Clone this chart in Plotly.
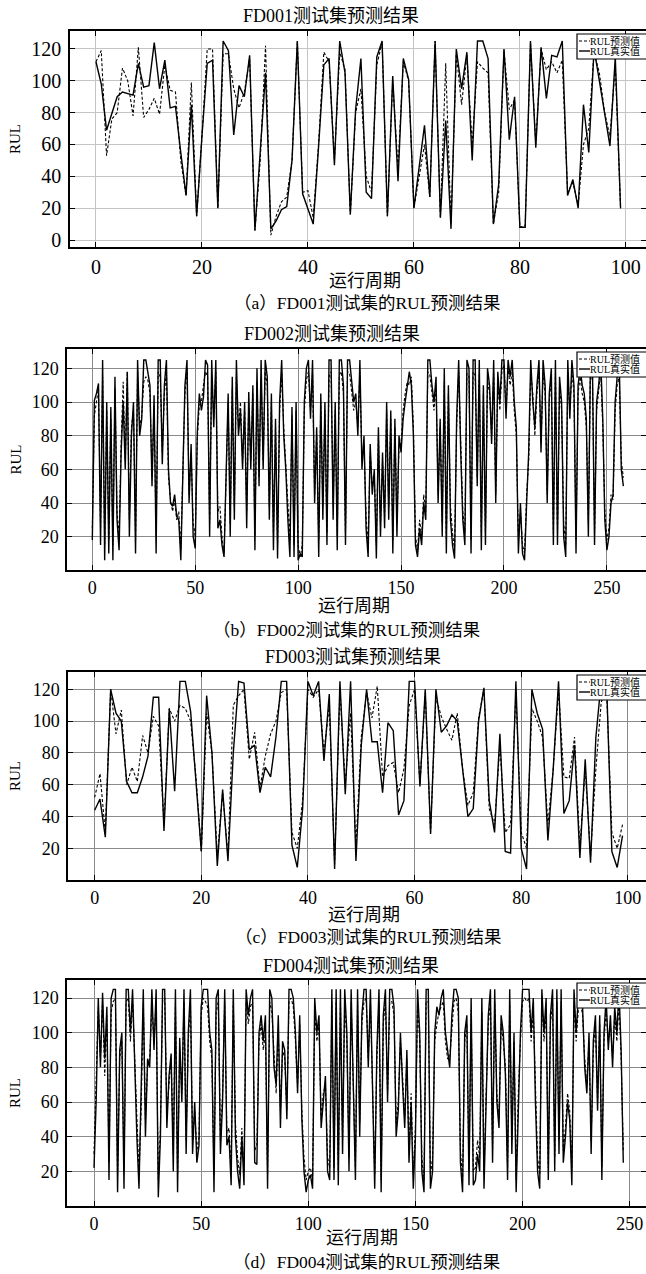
import plotly.graph_objects as go

W, H = 646, 1274

# ---------------- data ----------------
fd001_true = [112, 98, 69, 80, 90, 93, 92, 91, 111, 96,
              97, 124, 95, 113, 83, 84, 55, 28, 85, 15,
              65, 111, 113, 20, 125, 119, 66, 97, 90, 116,
              6, 55, 105, 7, 12, 19, 21, 50, 125, 29,
              20, 10, 58, 110, 114, 47, 125, 105, 16, 82,
              114, 30, 26, 115, 125, 15, 103, 37, 114, 101,
              20, 45, 72, 27, 125, 14, 75, 7, 120, 95,
              118, 50, 125, 125, 114, 10, 35, 120, 63, 90,
              8, 8, 125, 58, 121, 89, 116, 115, 125, 28,
              38, 20, 85, 55, 120, 100, 80, 59, 115, 20]
fd001_pred = [112, 119, 53, 76, 80, 108, 100, 78, 121, 77,
              82, 89, 79, 110, 94, 93, 50, 28, 99, 15,
              65, 120, 120, 20, 117, 117, 95, 83, 93, 114,
              6, 50, 122, 3, 15, 24, 27, 50, 125, 30,
              31, 14, 60, 118, 112, 50, 118, 107, 16, 80,
              95, 40, 30, 110, 124, 15, 100, 45, 112, 100,
              20, 40, 60, 27, 125, 14, 111, 10, 117, 85,
              116, 60, 112, 108, 105, 10, 30, 119, 82, 88,
              8, 9, 124, 60, 120, 107, 112, 105, 113, 30,
              36, 22, 60, 70, 118, 105, 80, 65, 110, 20]

fd002_true = [18, 101, 105, 111, 15, 125, 6, 100, 10, 97,
              6, 115, 30, 12, 70, 100, 60, 118, 20, 80,
              100, 10, 125, 80, 90, 125, 125, 118, 110, 50,
              104, 10, 125, 125, 63, 110, 125, 60, 40, 38,
              45, 32, 30, 6, 55, 110, 125, 40, 75, 20,
              13, 82, 105, 95, 103, 125, 122, 20, 125, 85,
              125, 25, 30, 15, 8, 60, 105, 20, 115, 30,
              125, 80, 95, 60, 100, 25, 106, 60, 110, 12,
              120, 50, 125, 60, 125, 115, 30, 105, 12, 90,
              7, 100, 125, 80, 60, 30, 8, 97, 8, 100,
              6, 10, 8, 100, 120, 125, 90, 125, 40, 85,
              8, 105, 30, 100, 15, 125, 125, 30, 100, 12,
              125, 125, 110, 15, 125, 125, 110, 100, 105, 80,
              125, 60, 80, 25, 8, 75, 45, 60, 7, 85,
              20, 70, 25, 100, 30, 95, 10, 90, 20, 80,
              70, 90, 100, 110, 118, 110, 80, 15, 8, 25,
              15, 40, 30, 125, 125, 110, 100, 115, 40, 90,
              20, 120, 10, 110, 30, 15, 7, 90, 125, 70,
              30, 15, 125, 120, 10, 125, 125, 50, 125, 12,
              110, 15, 120, 110, 75, 125, 40, 118, 100, 125,
              125, 90, 125, 115, 125, 100, 85, 10, 40, 10,
              6, 40, 70, 125, 100, 85, 110, 125, 70, 125,
              110, 40, 105, 120, 15, 125, 15, 115, 100, 20,
              8, 125, 90, 125, 110, 10, 110, 120, 110, 105,
              90, 20, 125, 120, 15, 100, 110, 125, 90, 30,
              12, 20, 40, 45, 100, 115, 125, 60, 50]
fd002_pred = [25, 92, 100, 108, 25, 115, 15, 95, 18, 90,
              15, 108, 35, 20, 75, 112, 65, 118, 30, 85,
              95, 18, 118, 85, 92, 112, 115, 113, 105, 55,
              98, 20, 118, 115, 70, 105, 118, 55, 42, 35,
              42, 30, 35, 12, 60, 105, 120, 45, 70, 28,
              20, 78, 98, 100, 110, 118, 115, 28, 116, 90,
              118, 35, 38, 20, 10, 55, 100, 28, 108, 38,
              115, 85, 100, 65, 95, 35, 100, 65, 105, 20,
              112, 55, 115, 65, 118, 110, 38, 100, 22, 85,
              15, 95, 117, 85, 65, 38, 18, 92, 15, 95,
              15, 8, 15, 95, 113, 118, 95, 117, 45, 80,
              18, 100, 38, 95, 22, 115, 118, 38, 95, 20,
              116, 118, 105, 22, 118, 117, 105, 95, 100, 85,
              118, 65, 75, 32, 15, 70, 50, 55, 15, 80,
              28, 65, 32, 95, 38, 90, 18, 85, 28, 75,
              75, 95, 105, 112, 110, 115, 85, 20, 12, 30,
              20, 45, 35, 118, 116, 105, 95, 110, 45, 85,
              28, 112, 18, 105, 38, 22, 12, 85, 118, 75,
              35, 22, 117, 115, 18, 118, 116, 55, 117, 20,
              105, 22, 113, 105, 80, 117, 45, 112, 95, 118,
              122, 95, 120, 110, 118, 95, 80, 18, 35, 15,
              10, 45, 65, 118, 105, 80, 105, 118, 75, 117,
              105, 45, 100, 115, 22, 117, 22, 110, 95, 28,
              15, 117, 95, 118, 105, 18, 105, 115, 105, 100,
              85, 28, 117, 113, 22, 95, 105, 118, 85, 35,
              18, 25, 45, 42, 95, 110, 115, 65, 55]

fd003_true = [44, 51, 27, 120, 105, 100, 62, 55, 55, 65,
              78, 115, 115, 31, 108, 56, 125, 125, 106, 60,
              18, 116, 80, 9, 57, 12, 80, 125, 124, 82,
              85, 55, 71, 65, 90, 125, 125, 22, 8, 45,
              125, 116, 125, 75, 117, 7, 125, 54, 125, 12,
              85, 120, 87, 87, 55, 99, 94, 41, 50, 125,
              125, 59, 120, 29, 120, 93, 97, 104, 100, 70,
              40, 45, 100, 121, 50, 30, 92, 18, 17, 125,
              20, 7, 120, 105, 95, 25, 70, 125, 42, 50,
              85, 14, 76, 11, 90, 125, 125, 18, 8, 28]
fd003_pred = [52, 67, 30, 120, 92, 107, 60, 71, 62, 91,
              80, 103, 97, 35, 108, 100, 110, 108, 100, 65,
              18, 105, 80, 15, 55, 15, 110, 116, 120, 76,
              93, 58, 78, 92, 100, 118, 120, 30, 20, 50,
              120, 115, 120, 80, 110, 10, 120, 60, 105, 20,
              90, 118, 102, 122, 65, 72, 74, 55, 70, 110,
              120, 60, 118, 30, 115, 103, 95, 88, 105, 70,
              47, 55, 102, 120, 45, 35, 85, 30, 35, 118,
              30, 20, 108, 100, 90, 35, 70, 120, 65, 64,
              90, 20, 70, 15, 70, 112, 120, 30, 20, 35]

fd004_true = [22, 60, 120, 80, 123, 85, 115, 15, 120, 125,
              125, 8, 90, 100, 10, 125, 125, 100, 125, 80,
              40, 10, 60, 125, 40, 85, 80, 125, 90, 125,
              5, 40, 125, 125, 45, 75, 88, 20, 125, 8,
              97, 60, 125, 30, 100, 125, 30, 60, 25, 35,
              115, 125, 125, 125, 100, 90, 8, 120, 125, 30,
              60, 125, 35, 40, 12, 125, 40, 20, 10, 40,
              12, 125, 110, 120, 125, 25, 24, 100, 110, 95,
              110, 10, 125, 120, 80, 70, 110, 45, 95, 90,
              50, 125, 125, 120, 100, 65, 110, 50, 20, 8,
              15, 18, 10, 120, 100, 110, 45, 60, 75, 20,
              15, 125, 15, 125, 12, 125, 30, 125, 100, 20,
              125, 70, 15, 125, 40, 110, 125, 125, 80, 125,
              60, 10, 90, 125, 8, 110, 125, 60, 125, 125,
              115, 40, 55, 100, 70, 45, 90, 25, 60, 10,
              40, 125, 100, 20, 8, 125, 125, 10, 20, 100,
              115, 110, 120, 125, 100, 90, 80, 110, 125, 125,
              120, 25, 8, 100, 110, 12, 120, 12, 15, 30,
              20, 120, 10, 60, 110, 125, 25, 125, 60, 45,
              110, 100, 75, 15, 125, 30, 100, 8, 60, 100,
              125, 125, 125, 125, 100, 120, 60, 20, 10, 125,
              100, 120, 15, 110, 125, 20, 125, 30, 125, 25,
              40, 60, 50, 12, 125, 100, 120, 125, 115, 80,
              65, 100, 30, 95, 110, 55, 110, 15, 100, 120,
              90, 110, 80, 115, 100, 125, 90, 25]
fd004_pred = [30, 70, 115, 85, 118, 75, 110, 25, 112, 118,
              120, 18, 85, 95, 20, 118, 120, 95, 118, 85,
              45, 18, 55, 118, 50, 80, 85, 115, 95, 118,
              15, 45, 118, 120, 55, 70, 85, 30, 117, 18,
              90, 65, 118, 38, 95, 118, 38, 55, 32, 40,
              110, 120, 118, 115, 95, 85, 18, 112, 118, 38,
              65, 118, 42, 45, 20, 118, 48, 28, 18, 45,
              20, 118, 105, 115, 118, 32, 35, 95, 105, 90,
              100, 18, 118, 112, 85, 65, 100, 55, 90, 85,
              55, 118, 120, 115, 95, 70, 105, 55, 28, 15,
              20, 22, 15, 112, 95, 105, 50, 65, 70, 28,
              22, 118, 22, 118, 20, 118, 38, 118, 95, 28,
              118, 75, 22, 118, 48, 105, 118, 120, 85, 118,
              65, 18, 85, 118, 15, 105, 118, 65, 118, 118,
              110, 48, 60, 95, 75, 50, 85, 32, 65, 18,
              45, 118, 95, 28, 15, 118, 118, 18, 28, 95,
              105, 112, 115, 118, 95, 85, 85, 105, 118, 120,
              112, 32, 15, 95, 105, 20, 113, 20, 22, 38,
              28, 112, 18, 65, 105, 118, 32, 118, 65, 50,
              105, 95, 80, 22, 118, 38, 95, 15, 65, 95,
              118, 120, 118, 120, 95, 112, 65, 28, 18, 118,
              95, 113, 22, 105, 118, 28, 118, 38, 118, 32,
              45, 65, 55, 20, 118, 95, 113, 118, 110, 85,
              70, 95, 38, 90, 105, 60, 105, 22, 95, 113,
              95, 105, 85, 110, 95, 118, 85, 32]

titles = ["FD001测试集预测结果", "FD002测试集预测结果",
          "FD003测试集预测结果", "FD004测试集预测结果"]
captions = ["（a）FD001测试集的RUL预测结果", "（b）FD002测试集的RUL预测结果",
            "（c）FD003测试集的RUL预测结果", "（d）FD004测试集的RUL预测结果"]
xlabel = "运行周期"
ylabel = "RUL"
legend_pred = "RUL预测值"
legend_true = "RUL真实值"

series = [(fd001_true, fd001_pred), (fd002_true, fd002_pred),
          (fd003_true, fd003_pred), (fd004_true, fd004_pred)]

# ---------------- layout geometry (pixels) ----------------
panels = [
    dict(l=70, t=31, b=247, xr=[-4.9, 103.8], yr=[-4.4, 131.3],
         xt=[0, 20, 40, 60, 80, 100], yt=[0, 20, 40, 60, 80, 100, 120], tf=20,
         title=(331, 16), xlab=(365, 281), cap=(367, 303), grid="#c4c4c4"),
    dict(l=67, t=349, b=570, xr=[-12.3, 269.0], yr=[0.2, 131.5],
         xt=[0, 50, 100, 150, 200, 250], yt=[20, 40, 60, 80, 100, 120], tf=18,
         title=(332, 334), xlab=(354, 606), cap=(346, 630), grid="#8a8a8a"),
    dict(l=68, t=672, b=880, xr=[-5.0, 103.4], yr=[0.1, 130.9],
         xt=[0, 20, 40, 60, 80, 100], yt=[20, 40, 60, 80, 100, 120], tf=18,
         title=(353, 657), xlab=(364, 915), cap=(368, 937), grid="#8a8a8a"),
    dict(l=67, t=980, b=1206, xr=[-12.6, 257.6], yr=[0.0, 130.4],
         xt=[0, 50, 100, 150, 200, 250], yt=[20, 40, 60, 80, 100, 120], tf=18,
         title=(351, 966), xlab=(362, 1238), cap=(366, 1262), grid="#8a8a8a"),
]

FONT = "Liberation Serif, Noto Sans CJK SC, serif"


def px(x):
    return x / W


def py(y):
    return 1 - y / H


fig = go.Figure()
annotations = []
shapes = []
layout = {}

for i, (p, (yt_vals, yp_vals)) in enumerate(zip(panels, series)):
    n = i + 1
    xa = "x" if n == 1 else f"x{n}"
    ya = "y" if n == 1 else f"y{n}"
    xs = list(range(len(yt_vals)))
    fig.add_trace(go.Scatter(x=xs, y=yp_vals, mode="lines", xaxis=xa, yaxis=ya,
                             line=dict(color="black", width=1.1, dash="3px,2px"),
                             name=legend_pred, showlegend=False))
    fig.add_trace(go.Scatter(x=xs, y=yt_vals, mode="lines", xaxis=xa, yaxis=ya,
                             line=dict(color="black", width=1.4),
                             name=legend_true, showlegend=False))
    axis_common = dict(showline=True, linecolor="black", linewidth=1.5, mirror="ticks",
                       ticks="inside", ticklen=5, tickcolor="black", tickwidth=1,
                       showgrid=True, gridcolor=p["grid"], gridwidth=1, zeroline=False,
                       ticklabeloverflow="allow",
                       tickfont=dict(family=FONT, size=p["tf"], color="black"))
    layout["xaxis" if n == 1 else f"xaxis{n}"] = dict(
        axis_common, domain=[px(p["l"]), 1.0], range=p["xr"], tickvals=p["xt"],
        anchor=ya, ticklabelstandoff=1)
    layout["yaxis" if n == 1 else f"yaxis{n}"] = dict(
        axis_common, domain=[py(p["b"]), py(p["t"])], range=p["yr"], tickvals=p["yt"],
        anchor=xa, ticklabelstandoff=3)

    annotations.append(dict(text=titles[i], x=px(p["title"][0]), y=py(p["title"][1]),
                            xref="paper", yref="paper", showarrow=False,
                            xanchor="center", yanchor="middle",
                            font=dict(family=FONT, size=18, color="black")))
    annotations.append(dict(text=xlabel, x=px(p["xlab"][0]), y=py(p["xlab"][1]),
                            xref="paper", yref="paper", showarrow=False,
                            xanchor="center", yanchor="middle",
                            font=dict(family=FONT, size=18, color="black")))
    annotations.append(dict(text=captions[i], x=px(p["cap"][0]), y=py(p["cap"][1]),
                            xref="paper", yref="paper", showarrow=False,
                            xanchor="center", yanchor="middle",
                            font=dict(family=FONT, size=17.5, color="black")))
    annotations.append(dict(text=ylabel, x=px(15), y=py((p["t"] + p["b"]) / 2),
                            xref="paper", yref="paper", showarrow=False, textangle=-90,
                            xanchor="center", yanchor="middle",
                            font=dict(family=FONT, size=15, color="black")))

    # legend box (drawn inside the top-right corner of each panel)
    lt = p["t"] + 3
    shapes.append(dict(type="rect", xref="paper", yref="paper",
                       x0=px(577), x1=px(660), y0=py(lt + 25), y1=py(lt),
                       line=dict(color="black", width=1.2), fillcolor="white"))
    shapes.append(dict(type="line", xref="paper", yref="paper",
                       x0=px(579), x1=px(590), y0=py(lt + 7), y1=py(lt + 7),
                       line=dict(color="black", width=1.2, dash="3px,2px")))
    shapes.append(dict(type="line", xref="paper", yref="paper",
                       x0=px(579), x1=px(590), y0=py(lt + 17), y1=py(lt + 17),
                       line=dict(color="black", width=1.4)))
    annotations.append(dict(text=legend_pred, x=px(589), y=py(lt + 7),
                            xref="paper", yref="paper", showarrow=False,
                            xanchor="left", yanchor="middle", borderpad=0,
                            font=dict(family=FONT, size=10, color="black")))
    annotations.append(dict(text=legend_true, x=px(589), y=py(lt + 17),
                            xref="paper", yref="paper", showarrow=False,
                            xanchor="left", yanchor="middle", borderpad=0,
                            font=dict(family=FONT, size=10, color="black")))

fig.update_layout(**layout)
fig.update_layout(width=W, height=H, margin=dict(l=0, r=0, t=0, b=0, autoexpand=False),
                  paper_bgcolor="white", plot_bgcolor="white", showlegend=False,
                  annotations=annotations, shapes=shapes,
                  font=dict(family=FONT, color="black"))

fig.write_html("out.html", config={"displayModeBar": False},
               post_script="document.body.style.margin='0';document.body.style.overflow='hidden';")
